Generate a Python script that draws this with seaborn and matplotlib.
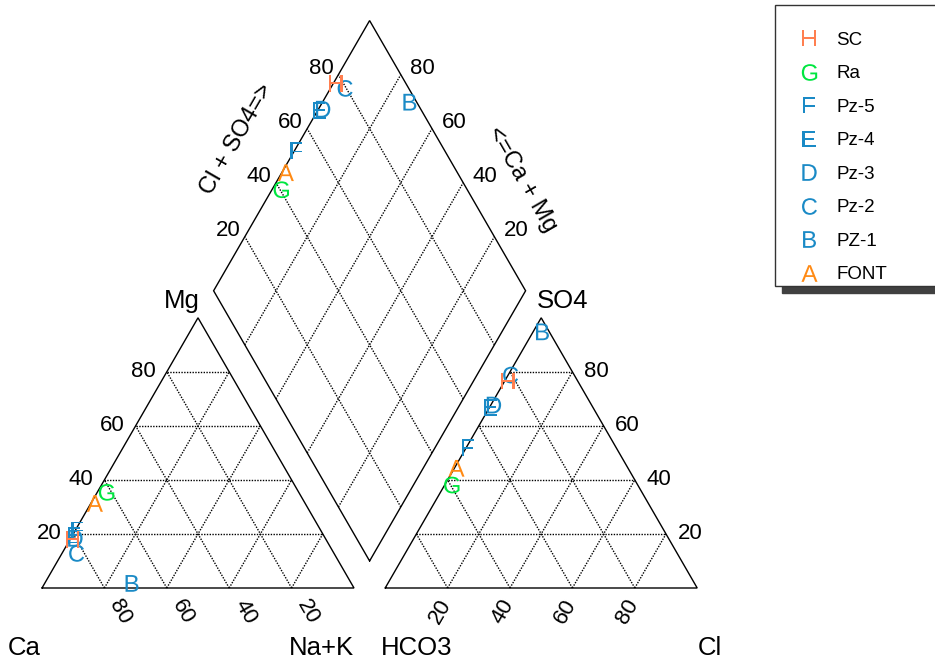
import numpy as np
import pandas as pd
import matplotlib
matplotlib.use("Agg")
import matplotlib.pyplot as plt
from matplotlib.lines import Line2D
import seaborn as sns

# samples (drawn in this order, A first)
letters = ["A", "B", "C", "D", "E", "F", "G", "H"]
samples = ["FONT", "PZ-1", "Pz-2", "Pz-3", "Pz-4", "Pz-5", "Ra", "SC"]
colors = ["#FF8A14", "#1A8AC6", "#1A8AC6", "#1A8AC6", "#1A8AC6", "#1A8AC6", "#00E640", "#FF7F50"]

# cations, % meq
ca = [67.4, 70.3, 82.5, 80.1, 79.9, 77.9, 61.6, 81.2]
mg = [31.3, 1.7, 12.8, 18.4, 19.6, 21.5, 35.4, 18.0]
nak = [1.3, 28.0, 4.7, 1.5, 0.5, 0.6, 3.0, 0.8]
# anions, % meq
hco3 = [55.0, 2.2, 20.4, 31.3, 32.8, 47.6, 59.6, 22.4]
so4 = [44.3, 94.8, 78.8, 67.7, 66.9, 52.0, 38.1, 76.6]
cl = [0.7, 3.0, 0.8, 1.0, 0.3, 0.4, 2.3, 1.0]

ticks = [20, 40, 60, 80]
legend_order = ["SC", "Ra", "Pz-5", "Pz-4", "Pz-3", "Pz-2", "PZ-1", "FONT"]

sns.set_style("white")
plt.rcParams["font.family"] = ["Liberation Sans", "DejaVu Sans"]
plt.rcParams["text.color"] = "black"
plt.rcParams["mathtext.fontset"] = "custom"
plt.rcParams["mathtext.rm"] = "Liberation Sans"

H = np.sqrt(3) / 2
GAP = 0.1
PX = 312.0          # pixels per unit side
X0, Y0 = 42, 588    # pixel position of the Ca corner
bx, by = 1 + GAP / 2, GAP * H   # bottom vertex of the diamond


def px(x, y):
    return (x - X0) / PX, (Y0 - y) / PX


def off(dx, dy):
    return dx / PX, -dy / PX


def tri_xy(left, top, right, x0=0.0):
    left, top, right = map(np.asarray, (left, top, right))
    tot = left + top + right
    return x0 + right / tot + 0.5 * top / tot, H * top / tot


cx, cy = tri_xy(ca, mg, nak)
ax_, ay_ = tri_xy(hco3, so4, cl, x0=1 + GAP)
s = (np.array(so4) + np.array(cl)) / (np.array(hco3) + np.array(so4) + np.array(cl))
m = (np.array(ca) + np.array(mg)) / (np.array(ca) + np.array(mg) + np.array(nak))
dx = bx + 0.5 * (s - m)
dy = by + H * (s + m)

rows = []
for i in range(len(samples)):
    for x, y in [(cx[i], cy[i]), (ax_[i], ay_[i]), (dx[i], dy[i])]:
        rows.append({"x": x, "y": y, "sample": samples[i]})
df = pd.DataFrame(rows)
df["order"] = df["sample"].map({n: i for i, n in enumerate(samples)})
df = df.sort_values("order", kind="stable")

marker_map = {n: r"$\mathrm{%s}$" % l for n, l in zip(samples, letters)}
color_map = dict(zip(samples, colors))

fig = plt.figure(figsize=(9.35, 6.59), dpi=100)
ax = fig.add_axes([0, 0, 1, 1])
ax.set_xlim(-X0 / PX, (935 - X0) / PX)
ax.set_ylim((Y0 - 659) / PX, Y0 / PX)
ax.set_axis_off()

# outlines
solid = dict(color="black", lw=1.0, solid_joinstyle="miter")
for x0 in [0, 1 + GAP]:
    ax.plot([x0, x0 + 1, x0 + 0.5, x0], [0, 0, H, 0], **solid)
ax.plot([bx, bx + 0.5, bx, bx - 0.5, bx], [by, by + H, by + 2 * H, by + H, by], **solid)

# dotted grid
dot = dict(color="black", lw=1.0, ls=(0, (1, 1)))
for t in ticks:
    k = t / 100
    for x0 in [0, 1 + GAP]:
        ax.plot([x0 + k / 2, x0 + 1 - k / 2], [k * H, k * H], **dot)
        ax.plot([x0 + 1 - k, x0 + (1 - k) / 2], [0, (1 - k) * H], **dot)
        ax.plot([x0 + k, x0 + k + (1 - k) / 2], [0, (1 - k) * H], **dot)
    ax.plot([bx + 0.5 * k, bx + 0.5 * k - 0.5], [by + H * k, by + H * k + H], **dot)
    ax.plot([bx - 0.5 * k, bx - 0.5 * k + 0.5], [by + H * k, by + H * k + H], **dot)

sns.scatterplot(data=df, x="x", y="y", hue="sample", style="sample",
                markers=marker_map, palette=color_map, s=145, linewidth=0,
                legend=False, ax=ax, zorder=3)

# tick labels
tfs = 16
for t in ticks:
    k = t / 100
    o = off(-23.5, 0)
    ax.text(k / 2 + o[0], H * k + o[1], str(t), fontsize=tfs, ha="center", va="center")
    o = off(16, 24)
    ax.text(1 - k + o[0], o[1], str(t), fontsize=tfs, ha="center", va="center", rotation=-60)
    o = off(-7, 24)
    ax.text(1 + GAP + k + o[0], o[1], str(t), fontsize=tfs, ha="center", va="center", rotation=60)
    o = off(24, 0)
    ax.text(2 + GAP - k / 2 + o[0], H * k + o[1], str(t), fontsize=tfs, ha="center", va="center")
    o = off(-17, -6.5)
    ax.text(bx - 0.5 + 0.5 * k + o[0], by + H + H * k + o[1], str(t), fontsize=tfs,
            ha="center", va="center")
    o = off(22, -6.5)
    ax.text(bx + 0.5 - 0.5 * k + o[0], by + H + H * k + o[1], str(t), fontsize=tfs,
            ha="center", va="center")

# axis titles
lfs = 18.5
for label, (x, y) in [("Ca", (24.5, 655)), ("Na+K", (321.7, 655)), ("HCO3", (417, 655)),
                      ("Cl", (710, 655)), ("Mg", (182, 308)), ("SO4", (563, 308))]:
    ax.text(*px(x, y), label, fontsize=lfs, ha="center", va="baseline")
ax.text(*px(237, 139), "Cl + SO4=>", fontsize=17, ha="center", va="center", rotation=60)
ax.text(*px(522, 179), "<=Ca + Mg", fontsize=17, ha="center", va="center", rotation=-60)

# legend
handles = [Line2D([], [], ls="", marker=marker_map[n], markersize=12,
                  markerfacecolor=color_map[n], markeredgewidth=0, color=color_map[n])
           for n in legend_order]
leg = ax.legend(handles, legend_order, loc="upper left",
                bbox_to_anchor=(775 / 935, 1 - 5 / 659, 200 / 935, 0),
                bbox_transform=fig.transFigure, mode="expand", borderaxespad=0,
                fontsize=13.5, borderpad=0.16, labelspacing=0.875, handlelength=3.3,
                handletextpad=-0.2, title=" ", title_fontsize=4.8, frameon=True,
                fancybox=False, edgecolor="#333333", framealpha=1,
                shadow={"ox": 5, "oy": -4.5, "color": "#404040", "alpha": 1})
leg.get_frame().set_linewidth(1.0)

fig.savefig("out.png", dpi=100)
